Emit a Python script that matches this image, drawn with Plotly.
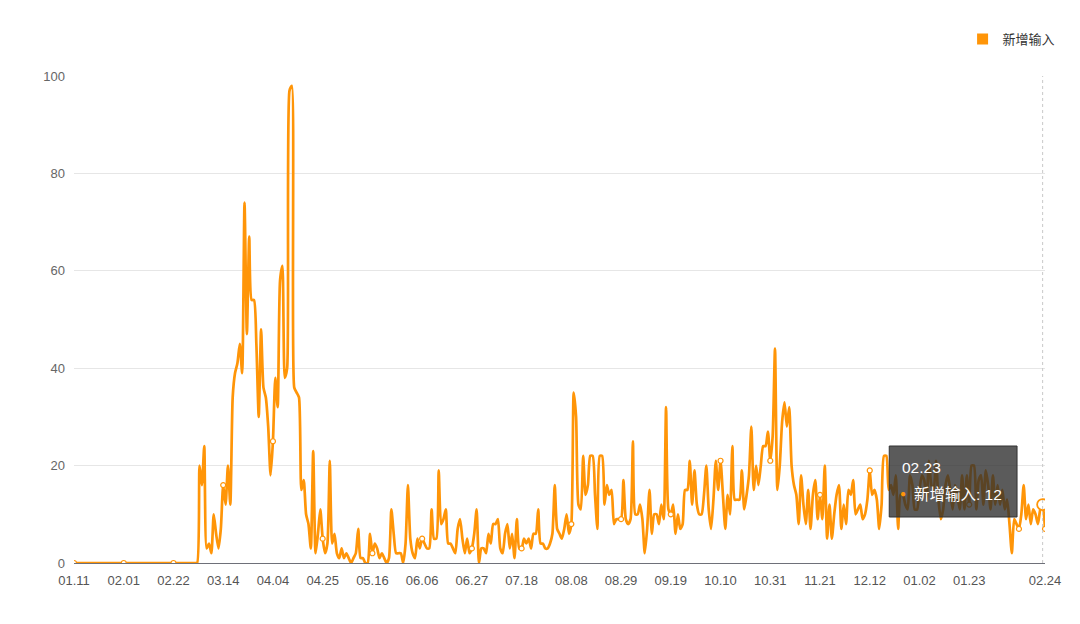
import pandas as pd
import plotly.graph_objects as go

# daily new imported cases, 2020-01-11 .. 2021-02-24
start_date = "2020-01-11"
imported = [
    0, 0, 0, 0, 0, 0, 0, 0, 0, 0,
    0, 0, 0, 0, 0, 0, 0, 0, 0, 0,
    0, 0, 0, 0, 0, 0, 0, 0, 0, 0,
    0, 0, 0, 0, 0, 0, 0, 0, 0, 0,
    0, 0, 0, 0, 0, 0, 0, 0, 0, 0,
    0, 0, 0, 20, 16, 24, 3, 4, 2, 10,
    6, 3, 7, 16, 12, 20, 12, 34, 39, 41,
    45, 39, 74, 47, 67, 54, 54, 45, 30, 48,
    36, 34, 28, 18, 25, 38, 32, 58, 61, 38,
    40, 97, 98, 36, 35, 34, 15, 17, 10, 8,
    3, 23, 2, 6, 11, 5, 2, 4, 21, 4,
    6, 2, 1, 3, 1, 2, 1, 0, 1, 2,
    7, 1, 1, 0, 0, 6, 2, 4, 3, 1,
    2, 1, 0, 1, 11, 6, 2, 2, 2, 0,
    4, 16, 5, 2, 1, 5, 3, 5, 4, 3,
    3, 11, 5, 5, 19, 8, 9, 11, 4, 4,
    3, 2, 7, 9, 5, 2, 5, 2, 3, 6,
    11, 0, 3, 3, 2, 6, 4, 8, 8, 9,
    3, 2, 6, 8, 3, 6, 1, 9, 3, 3,
    5, 4, 5, 3, 6, 6, 11, 4, 4, 3,
    3, 4, 6, 16, 7, 6, 5, 7, 10, 6,
    8, 35, 30, 12, 11, 22, 14, 16, 22, 22,
    14, 7, 22, 22, 12, 16, 14, 15, 8, 9,
    9, 9, 17, 9, 8, 9, 25, 10, 10, 12,
    9, 2, 7, 15, 6, 10, 10, 8, 12, 9,
    32, 11, 10, 12, 6, 10, 7, 8, 15, 15,
    21, 12, 19, 12, 10, 10, 14, 20, 11, 7,
    13, 21, 15, 21, 14, 7, 14, 10, 24, 13,
    13, 13, 19, 11, 14, 18, 28, 15, 20, 16,
    20, 24, 24, 27, 21, 26, 44, 15, 20, 29,
    33, 28, 32, 20, 16, 14, 8, 18, 12, 8,
    15, 7, 14, 17, 9, 14, 9, 20, 5, 12,
    5, 10, 14, 16, 7, 12, 8, 15, 14, 17,
    10, 11, 12, 9, 10, 13, 19, 14, 15, 13,
    7, 12, 22, 22, 15, 16, 14, 18, 7, 14,
    14, 12, 11, 18, 16, 11, 11, 15, 18, 17,
    13, 21, 16, 15, 21, 13, 9, 11, 16, 18,
    15, 11, 16, 14, 11, 18, 11, 18, 12, 20,
    20, 11, 17, 18, 12, 19, 16, 11, 18, 12,
    16, 12, 15, 11, 13, 8, 2, 9, 8, 7,
    10, 16, 9, 12, 8, 11, 10, 8, 11, 12, 7,
]

tick_labels = ["01.11", "02.01", "02.22", "03.14", "04.04", "04.25", "05.16",
               "06.06", "06.27", "07.18", "08.08", "08.29", "09.19", "10.10",
               "10.31", "11.21", "12.12", "01.02", "01.23", "02.24"]
y_ticks = [0, 20, 40, 60, 80, 100]

series_name = "新增输入"
hover_idx = 409  # 02.23
orange = "#ff9508"
font_family = "Liberation Sans, Noto Sans CJK SC, sans-serif"

dates = pd.date_range(start_date, periods=len(imported), freq="D")
tick_idx = list(range(0, 379, 21)) + [len(imported) - 1]
symbol_idx = list(range(0, len(imported), 21)) + [len(imported) - 1]

fig = go.Figure()

fig.add_trace(go.Scatter(
    x=dates, y=imported, mode="lines",
    line=dict(color=orange, width=2.7, shape="spline", smoothing=0.6),
    showlegend=False, hoverinfo="skip",
))

fig.add_trace(go.Scatter(
    x=[dates[i] for i in symbol_idx], y=[imported[i] for i in symbol_idx],
    mode="markers",
    marker=dict(symbol="circle", size=5, color="white", line=dict(color=orange, width=1.2)),
    showlegend=False, hoverinfo="skip",
))

# hovered point
fig.add_trace(go.Scatter(
    x=[dates[hover_idx]], y=[imported[hover_idx]], mode="markers",
    marker=dict(symbol="circle", size=11, color="white", line=dict(color=orange, width=1.8)),
    showlegend=False, hoverinfo="skip",
))

# legend entry (square icon)
fig.add_trace(go.Scatter(
    x=[None], y=[None], mode="markers", name=series_name,
    marker=dict(symbol="square", size=11, color=orange),
))

# axis pointer
fig.add_shape(type="line", xref="x", yref="paper",
              x0=dates[hover_idx], x1=dates[hover_idx], y0=0, y1=1,
              line=dict(color="#c8c8c8", width=1, dash="dot"))

# tooltip box (page pixel -> paper coords)
L, R, T, B = 73.5, 1046.0, 76.0, 563.0
def px_x(v):
    return (v - L) / (R - L)
def px_y(v):
    return (B - v) / (B - T)

fig.add_shape(type="rect", xref="paper", yref="paper", layer="above",
              x0=px_x(890), x1=px_x(1018), y0=px_y(517), y1=px_y(446),
              fillcolor="rgba(45,45,45,0.78)", line=dict(color="#333333", width=1))
fig.add_annotation(xref="paper", yref="paper", x=px_x(901), y=px_y(467),
                   xanchor="left", yanchor="middle", showarrow=False,
                   text=dates[hover_idx].strftime("%m.%d"),
                   font=dict(color="white", size=15.5, family=font_family))
fig.add_annotation(xref="paper", yref="paper", x=px_x(899), y=px_y(493),
                   xanchor="left", yanchor="middle", showarrow=False,
                   text="●", font=dict(color=orange, size=10, family=font_family))
fig.add_annotation(xref="paper", yref="paper", x=px_x(913), y=px_y(494),
                   xanchor="left", yanchor="middle", showarrow=False,
                   text=f"{series_name}: {imported[hover_idx]}",
                   font=dict(color="white", size=15.5, family=font_family))

# the page body has an 8px margin, so the figure is a bit smaller than the window
fig.update_layout(
    width=1064, height=608,
    margin=dict(l=65.5, r=26, t=68, b=53),
    paper_bgcolor="white", plot_bgcolor="white",
    font=dict(family=font_family, size=12, color="#666666"),
    hovermode=False,
    legend=dict(x=1.015, y=1.076, xanchor="right", yanchor="middle",
                font=dict(size=13, color="#333333"), itemwidth=30,
                bgcolor="rgba(0,0,0,0)"),
    xaxis=dict(
        range=[dates[0], dates[-1]],
        tickvals=[dates[i] for i in tick_idx], ticktext=tick_labels,
        showgrid=False, showline=True, linecolor="#6e7079", linewidth=1,
        ticks="", tickfont=dict(size=13, color="#555555"), ticklabelstandoff=5,
        zeroline=False, fixedrange=True,
    ),
    yaxis=dict(
        range=[0, 100], tickvals=y_ticks,
        showgrid=True, gridcolor="#e6e6e6", gridwidth=1,
        showline=False, zeroline=False, ticks="",
        tickfont=dict(size=13, color="#666666"), ticklabelstandoff=8,
        fixedrange=True,
    ),
)

fig.write_html("out.html")
